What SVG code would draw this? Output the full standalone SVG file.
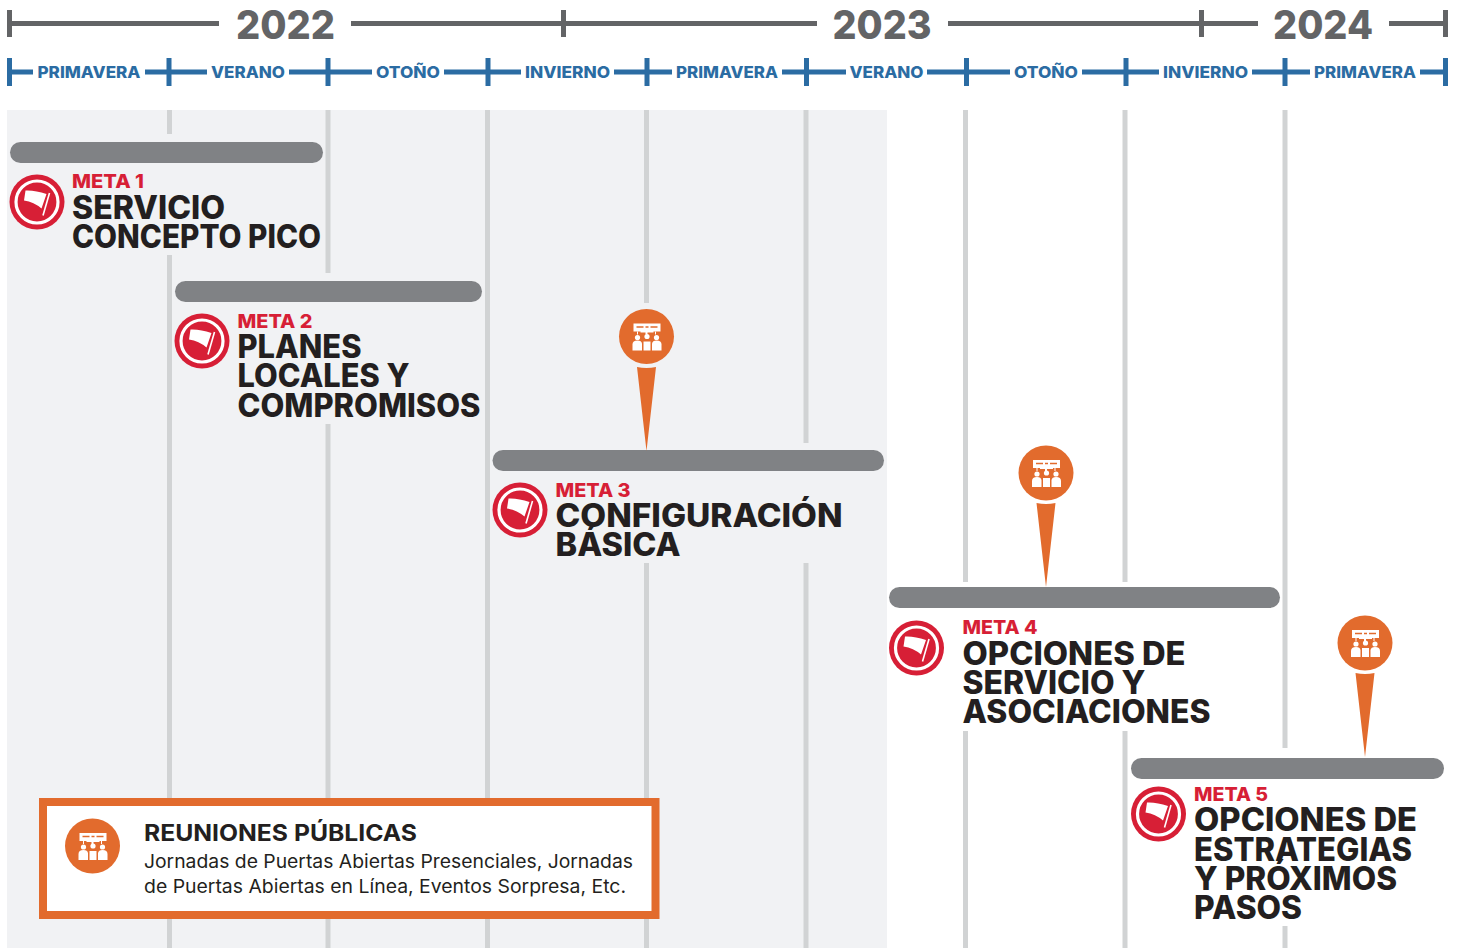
<svg xmlns="http://www.w3.org/2000/svg" width="1461" height="948" viewBox="0 0 1461 948">
<style>
text{font-family:"Inter","Liberation Sans",sans-serif;font-weight:700}
.y{font-size:40px;font-weight:800;fill:#636466;text-anchor:middle}
.s{font-size:16px;fill:#2b6ca3;font-weight:800;text-anchor:middle}
.m{font-size:19px;fill:#d71f36;font-weight:800}
.t{font-size:32px;fill:#231f20;font-weight:800}
.yl{stroke:#636466;stroke-width:5;fill:none}
.sl{stroke:#2b6ca3;stroke-width:5;fill:none}
.g{stroke:#d1d3d4;stroke-width:5;fill:none}
.bar{fill:#808285}
.pin{fill:#e26b2d}
</style>
<defs>
<g id="flag">
<circle r="27.500" fill="#d71f36"/>
<circle r="21" fill="none" stroke="#fff" stroke-width="3.200"/>
<path d="M-11.500-11.500Q-2-12 9.500-8L4.500 6.500Q-3 0-13-1.500Z" fill="#fff"/>
<path d="M12.500-9L6 13.500" stroke="#fff" stroke-width="1.600"/>
</g>
<g id="mtg">
<circle r="27.500" fill="#e26b2d"/>
<g fill="#fff">
<path d="M-13-13H14V-5H7V-4H1V-2H-1V-4H-6V-5H-13Z"/>
<path d="M-9.500-5H-8.500V-2H-9.500ZM8.500-5H9.500V-2H8.500Z"/>
<circle cx="-9" cy="1" r="2.600"/><circle cx="0.500" cy="0" r="2.600"/><circle cx="10" cy="1" r="2.600"/>
<path d="M-14 14V8Q-14 4-9 4Q-5 4-4.500 7V14Z"/><path d="M-3 14V5H4V14Z"/><path d="M5.500 14V7Q6 4 10 4Q15 4 15 8V14Z"/>
</g>
<path d="M-10-9.500H-3M-1-9.500H2M4-9.500H11" stroke="#e26b2d" stroke-width="1.500"/>
</g>
</defs>

<rect x="7" y="110" width="880" height="838" fill="#f1f2f4"/>

<g id="connectors">
<path class="g" d="M169.500 110V134M169.500 255V948M328 110V273M328 424V948M487.500 110V948M646.500 110V303M646.500 563V948M806 110V443M806 563V948M965.500 110V582M965.500 731V948M1125 110V582M1125 731V948M1285 110V748M1285 926V948"/>
<path class="yl" d="M9.500 10V37M9.500 23.500H219M351 23.500H817M563.500 10V37M948 23.500H1258M1201.500 10V37M1389 23.500H1446M1445.500 10V37"/>
<path class="sl" d="M9.500 58V86M9.500 72H33M145 72H207M169 58V86M289 72H372M328 58V86M444 72H521M488 58V86M614 72H672M647 58V86M782 72H846M806.500 58V86M927 72H1010M966.500 58V86M1082 72H1159M1126 58V86M1252 72H1310M1285 58V86M1420 72H1446M1445.500 58V86"/>
</g>

<g id="timeline">
<text class="y" x="285.500" y="38.500" textLength="99" lengthAdjust="spacingAndGlyphs">2022</text>
<text class="y" x="882" y="38.500" textLength="99" lengthAdjust="spacingAndGlyphs">2023</text>
<text class="y" x="1323" y="38.500" textLength="100" lengthAdjust="spacingAndGlyphs">2024</text>
<text class="s" x="89" y="78" textLength="103" lengthAdjust="spacingAndGlyphs">PRIMAVERA</text>
<text class="s" x="248" y="78" textLength="74" lengthAdjust="spacingAndGlyphs">VERANO</text>
<text class="s" x="408" y="78" textLength="64" lengthAdjust="spacingAndGlyphs">OTOÑO</text>
<text class="s" x="567.500" y="78" textLength="85" lengthAdjust="spacingAndGlyphs">INVIERNO</text>
<text class="s" x="727" y="78" textLength="102" lengthAdjust="spacingAndGlyphs">PRIMAVERA</text>
<text class="s" x="886.500" y="78" textLength="74" lengthAdjust="spacingAndGlyphs">VERANO</text>
<text class="s" x="1046" y="78" textLength="64" lengthAdjust="spacingAndGlyphs">OTOÑO</text>
<text class="s" x="1205.500" y="78" textLength="85" lengthAdjust="spacingAndGlyphs">INVIERNO</text>
<text class="s" x="1365" y="78" textLength="102" lengthAdjust="spacingAndGlyphs">PRIMAVERA</text>
</g>

<g id="meta1">
<rect class="bar" x="10" y="142" width="313" height="21" rx="10.500"/>
<use href="#flag" x="37" y="202"/>
<text class="m" x="72" y="188" textLength="72" lengthAdjust="spacingAndGlyphs">META 1</text>
<text class="t" x="72" y="218.500" textLength="153" lengthAdjust="spacingAndGlyphs">SERVICIO</text>
<text class="t" x="72" y="247.500" textLength="249" lengthAdjust="spacingAndGlyphs">CONCEPTO PICO</text>
</g>
<g id="meta2">
<rect class="bar" x="175" y="281" width="307" height="21" rx="10.500"/>
<use href="#flag" x="202" y="341"/>
<text class="m" x="237.500" y="328" textLength="75" lengthAdjust="spacingAndGlyphs">META 2</text>
<text class="t" x="237.500" y="357.500" textLength="124" lengthAdjust="spacingAndGlyphs">PLANES</text>
<text class="t" x="237.500" y="386.500" textLength="172" lengthAdjust="spacingAndGlyphs">LOCALES Y</text>
<text class="t" x="237.500" y="416.500" textLength="243" lengthAdjust="spacingAndGlyphs">COMPROMISOS</text>
</g>
<g id="meta3">
<rect class="bar" x="492.500" y="450" width="391.500" height="21" rx="10.500"/>
<use href="#flag" x="520" y="510"/>
<text class="m" x="555.500" y="497" textLength="75" lengthAdjust="spacingAndGlyphs">META 3</text>
<text class="t" x="555.500" y="526.500" textLength="287" lengthAdjust="spacingAndGlyphs">CONFIGURACIÓN</text>
<text class="t" x="555.500" y="555.500" textLength="125" lengthAdjust="spacingAndGlyphs">BÁSICA</text>
</g>
<g id="meta4">
<rect class="bar" x="889" y="587" width="391" height="21" rx="10.500"/>
<use href="#flag" x="916.500" y="648"/>
<text class="m" x="962.500" y="634" textLength="75" lengthAdjust="spacingAndGlyphs">META 4</text>
<text class="t" x="962.500" y="664.500" textLength="223" lengthAdjust="spacingAndGlyphs">OPCIONES DE</text>
<text class="t" x="962.500" y="693.500" textLength="183" lengthAdjust="spacingAndGlyphs">SERVICIO Y</text>
<text class="t" x="962.500" y="722.500" textLength="248" lengthAdjust="spacingAndGlyphs">ASOCIACIONES</text>
</g>
<g id="meta5">
<rect class="bar" x="1131" y="758" width="313" height="21" rx="10.500"/>
<use href="#flag" x="1158.500" y="814"/>
<text class="m" x="1194" y="801" textLength="74" lengthAdjust="spacingAndGlyphs">META 5</text>
<text class="t" x="1194" y="830.500" textLength="223" lengthAdjust="spacingAndGlyphs">OPCIONES DE</text>
<text class="t" x="1194" y="860.500" textLength="218" lengthAdjust="spacingAndGlyphs">ESTRATEGIAS</text>
<text class="t" x="1194" y="889.500" textLength="203" lengthAdjust="spacingAndGlyphs">Y PRÓXIMOS</text>
<text class="t" x="1194" y="918.500" textLength="108" lengthAdjust="spacingAndGlyphs">PASOS</text>
</g>

<g id="pin1"><use href="#mtg" x="646.500" y="336.500"/><path class="pin" d="M637 367Q646.500 369 656 367L646.500 451Z"/></g>
<g id="pin2"><use href="#mtg" x="1046" y="473"/><path class="pin" d="M1036.500 503Q1046 505 1055.500 503L1046 587Z"/></g>
<g id="pin3"><use href="#mtg" x="1365" y="643"/><path class="pin" d="M1355.500 673Q1365 675 1374.500 673L1365 757Z"/></g>

<g id="legend">
<rect x="43" y="802" width="612.500" height="113" fill="#fff" stroke="#e26b2d" stroke-width="8"/>
<use href="#mtg" x="92.500" y="846"/>
<text x="144" y="841" font-size="23" fill="#231f20" style="font-weight:700" textLength="273" lengthAdjust="spacingAndGlyphs">REUNIONES PÚBLICAS</text>
<text x="144" y="868" font-size="18.500" fill="#231f20" style="font-weight:400" textLength="489" lengthAdjust="spacingAndGlyphs">Jornadas de Puertas Abiertas Presenciales, Jornadas</text>
<text x="144" y="893" font-size="18.500" fill="#231f20" style="font-weight:400" textLength="482" lengthAdjust="spacingAndGlyphs">de Puertas Abiertas en Línea, Eventos Sorpresa, Etc.</text>
</g>
</svg>
